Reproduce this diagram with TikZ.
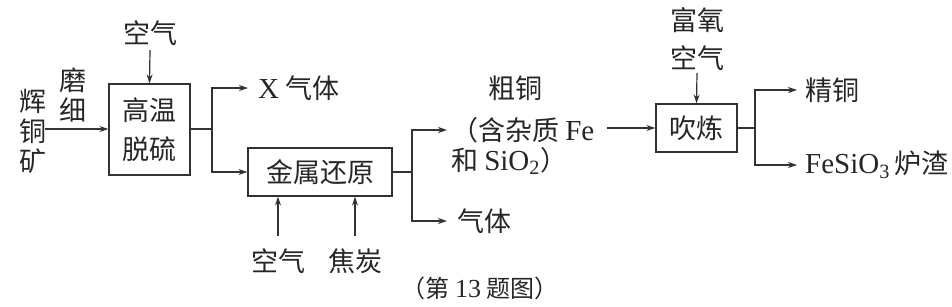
\documentclass[tikz,border=0pt]{standalone}
\usepackage{fontspec}
\setmainfont{Liberation Serif}
\newfontfamily\cjk{Noto Sans CJK SC}
\newfontfamily\lat{Liberation Serif}
\newcommand\myla[1]{{\lat\fontsize{29}{30}\selectfont #1}}
\usetikzlibrary{arrows.meta}
\tikzset{
  txt/.style={font=\cjk\fontsize{27}{30}\selectfont, inner sep=0pt, text=black!85},
  procbox/.style={draw=black!80, line width=1.2pt, font=\cjk\fontsize{27}{39}\selectfont, align=center, inner sep=0pt, text=black!85},
  ln/.style={draw=black!80, line width=1.2pt},
  arr/.style={ln, -{Stealth[length=9pt,width=6pt]}},
}
\begin{document}
\begin{tikzpicture}[x=1pt,y=-1pt]
\useasboundingbox (0,0) rectangle (952,306);
% stage 1
\node[procbox, minimum width=81pt, minimum height=91pt] (b1) at (149.5,129.5) {高温\\脱硫};
\node[txt] (air1) at (150,33) {空气};
\node[txt, align=center] (ore) at (33,131) {辉\\铜\\矿};
\node[txt, align=center] (grind) at (73,95) {磨\\细};
\coordinate (s0) at (45,129);
\draw[arr] (s0) -- (s0 -| b1.west);
\draw[arr] (150,50) -- (b1.north);
\coordinate (j1) at (212,129);
\node[txt, anchor=west, inner xsep=10pt] (xg) at (248,88) {\myla{X} 气体};
% stage 2
\node[procbox, minimum width=144pt, minimum height=48pt] (b2) at (320,172) {金属还原};
\draw[ln] (b1.east |- j1) -- (j1);
\draw[arr] (j1) |- (xg.west);
\draw[arr] (j1) |- (b2.west);
\node[txt] (air2) at (278,261) {空气};
\node[txt] (coke) at (355,261) {焦炭};
\draw[arr] (278,236) -- (air2 |- b2.south);
\draw[arr] (355,236) -- (coke |- b2.south);
\coordinate (j2) at (412,172);
\draw[ln] (b2.east) -- (j2);
\node[txt] (cu1) at (515,88) {粗铜};
\node[txt, anchor=west, inner xsep=4pt] (cu2) at (447,130) {（含杂质 \myla{Fe}};
\node[txt, anchor=west] (cu3) at (451,161) {和 \myla{SiO\textsubscript{2}}）};
\node[txt, anchor=west, inner xsep=10pt] (gas) at (447,221) {气体};
\draw[arr] (j2) |- (cu2.west);
\draw[arr] (j2) |- (gas.west);
% stage 3
\node[procbox, minimum width=81pt, minimum height=48pt] (b3) at (696.5,128) {吹炼};
\coordinate (c3) at (607,128);
\draw[arr] (c3) -- (b3.west);
\node[txt, align=center, font=\cjk\fontsize{27}{38}\selectfont] (o2) at (697,39) {富氧\\空气};
\draw[arr] (697,73) -- (b3.north);
\coordinate (j3) at (755,128);
\draw[ln] (b3.east) -- (j3);
\node[txt, anchor=west, inner xsep=8pt] (fine) at (797,90) {精铜};
\node[txt, anchor=west, inner xsep=8pt] (slag) at (797,165) {\myla{FeSiO\textsubscript{3}}\,炉渣};
\draw[arr] (j3) |- (fine.west);
\draw[arr] (j3) |- (slag.west);
% caption
\node[txt, font=\cjk\fontsize{24}{26}\selectfont] (cap) at (480,288) {（第 {\lat\fontsize{26}{26}\selectfont 13} 题图）};
\end{tikzpicture}
\end{document}
